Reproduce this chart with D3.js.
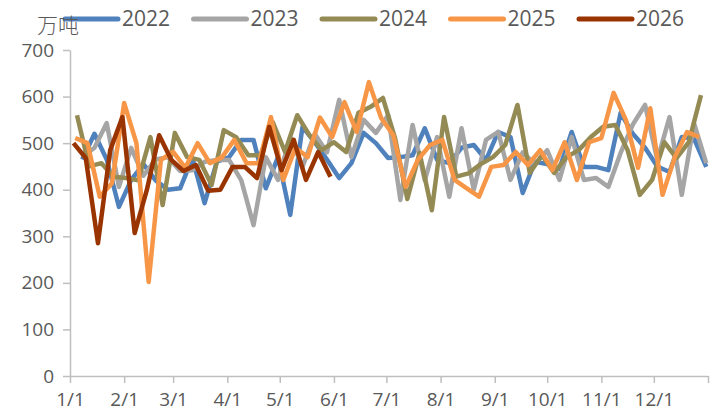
<!DOCTYPE html>
<html lang="zh">
<head>
  <meta charset="UTF-8">
  <title>周度数据 2022-2026</title>
  <script src="https://d3js.org/d3.v7.min.js"></script>
  <style>
    body { margin: 0; background: #fff; }
    svg text { font-family: "Liberation Sans Narrow", "Open Sans", sans-serif; fill: #595959; }
    .unit { font-family: "Noto Sans CJK SC", sans-serif; font-weight: 300; }
    .axis path, .axis line { stroke: #BFBFBF; stroke-width: 1.5px; }
    .line { fill: none; stroke-width: 4.5px; stroke-linejoin: round; }
  </style>
</head>
<body>
  <svg width="721" height="414"></svg>
  <script>
    const width = 721;
    const height = 414;

    // weekly values, 万吨
    const years = ["2022", "2023", "2024", "2025", "2026"];
    const colors = ["#4F81BD", "#A5A5A5", "#948A54", "#F79646", "#993300"];
    // day of year of the first weekly point
    const firstDay = [7, 7, 4, 3, 2];

    const s2022 = [465, 520, 465, 363, 421, 455, 420, 400, 403, 468, 371, 460, 470, 507, 507, 403,
      470, 346, 535, 502, 465, 425, 457, 522, 500, 468, 470, 474, 532, 464, 457, 490, 496, 464, 524,
      513, 393, 460, 455, 445, 524, 449, 449, 442, 565, 520, 490, 450, 438, 513, 510, 449];
    const s2023 = [470, 490, 543, 406, 490, 430, 465, 470, 440, 442, 460, 464, 464, 420, 324, 470,
      421, 513, 449, 520, 480, 593, 470, 550, 522, 560, 378, 539, 420, 513, 385, 532, 400, 507, 524,
      421, 480, 455, 485, 421, 513, 421, 425, 406, 479, 540, 582, 464, 556, 389, 543, 457];
    const s2024 = [560, 450, 457, 428, 425, 420, 513, 367, 522, 470, 464, 410, 528, 513, 474, 474,
      545, 481, 560, 517, 485, 502, 481, 565, 578, 597, 510, 380, 479, 356, 556, 428, 435, 455, 470,
      496, 582, 436, 474, 436, 470, 485, 513, 535, 539, 485, 389, 421, 502, 468, 502, 603];
    const s2025 = [511, 500, 385, 414, 586, 500, 202, 464, 481, 447, 500, 457, 470, 507, 457, 457,
      556, 421, 490, 470, 555, 513, 588, 524, 631, 554, 517, 406, 464, 496, 507, 421, 403, 385, 449,
      453, 481, 453, 485, 442, 502, 421, 502, 511, 608, 550, 447, 575, 389, 470, 524, 513];
    const s2026 = [500, 468, 285, 485, 556, 307, 400, 517, 464, 440, 453, 398, 400, 449, 449, 425,
      535, 442, 507, 421, 481, 428];
    const seriesValues = [s2022, s2023, s2024, s2025, s2026];

    const yTicks = [0, 100, 200, 300, 400, 500, 600, 700];
    const monthLabels = ["1/1", "2/1", "3/1", "4/1", "5/1", "6/1", "7/1", "8/1", "9/1", "10/1", "11/1", "12/1"];

    const margin = { top: 50, right: 13, bottom: 38, left: 70 };
    const svg = d3.select("svg").attr("width", width).attr("height", height);

    // a common non-leap year for the date axis
    const day0 = new Date(2021, 0, 1);
    const x = d3.scaleTime()
        .domain([day0, new Date(2022, 0, 1)])
        .range([margin.left, width - margin.right]);
    const y = d3.scaleLinear()
        .domain([0, 700])
        .range([height - margin.bottom, margin.top]);

    const monthStarts = d3.range(13).map(m => new Date(2021, m, 1));

    // x axis
    const xAxis = svg.append("g")
        .attr("class", "axis")
        .attr("transform", `translate(0,${y(0)})`)
        .call(d3.axisBottom(x).tickValues(monthStarts).tickSize(7).tickSizeOuter(0)
            .tickFormat((d, i) => monthLabels[i] || ""));
    xAxis.selectAll("text")
        .attr("dy", "1.05em")
        .style("font-size", "19px");

    // y axis
    const yAxis = svg.append("g")
        .attr("class", "axis")
        .attr("transform", `translate(${margin.left},0)`)
        .call(d3.axisLeft(y).tickValues(yTicks).tickSize(7).tickSizeOuter(0).tickPadding(9));
    yAxis.selectAll("text").style("font-size", "19px");

    // lines
    const line = d3.line()
        .x(d => x(d3.timeDay.offset(day0, d.day)))
        .y(d => y(d.value));

    seriesValues.forEach((vals, k) => {
      const pts = vals.map((v, i) => ({ day: firstDay[k] + 7 * i, value: v }));
      svg.append("path")
          .datum(pts)
          .attr("class", "line")
          .attr("stroke", colors[k])
          .attr("d", line);
    });

    // legend
    const legend = svg.append("g").attr("transform", "translate(65,19)");
    years.forEach((yr, k) => {
      const g = legend.append("g").attr("transform", `translate(${k * 128.5},0)`);
      g.append("line")
          .attr("x1", 0).attr("x2", 53)
          .attr("stroke", colors[k])
          .attr("stroke-width", 5)
          .attr("stroke-linecap", "round");
      g.append("text")
          .attr("x", 57)
          .attr("dy", "0.35em")
          .style("font-size", "21px")
          .text(yr);
    });

    // unit
    svg.append("text")
        .attr("class", "unit")
        .attr("x", 37)
        .attr("y", 33)
        .style("font-size", "21px")
        .text("万吨");
  </script>
</body>
</html>
